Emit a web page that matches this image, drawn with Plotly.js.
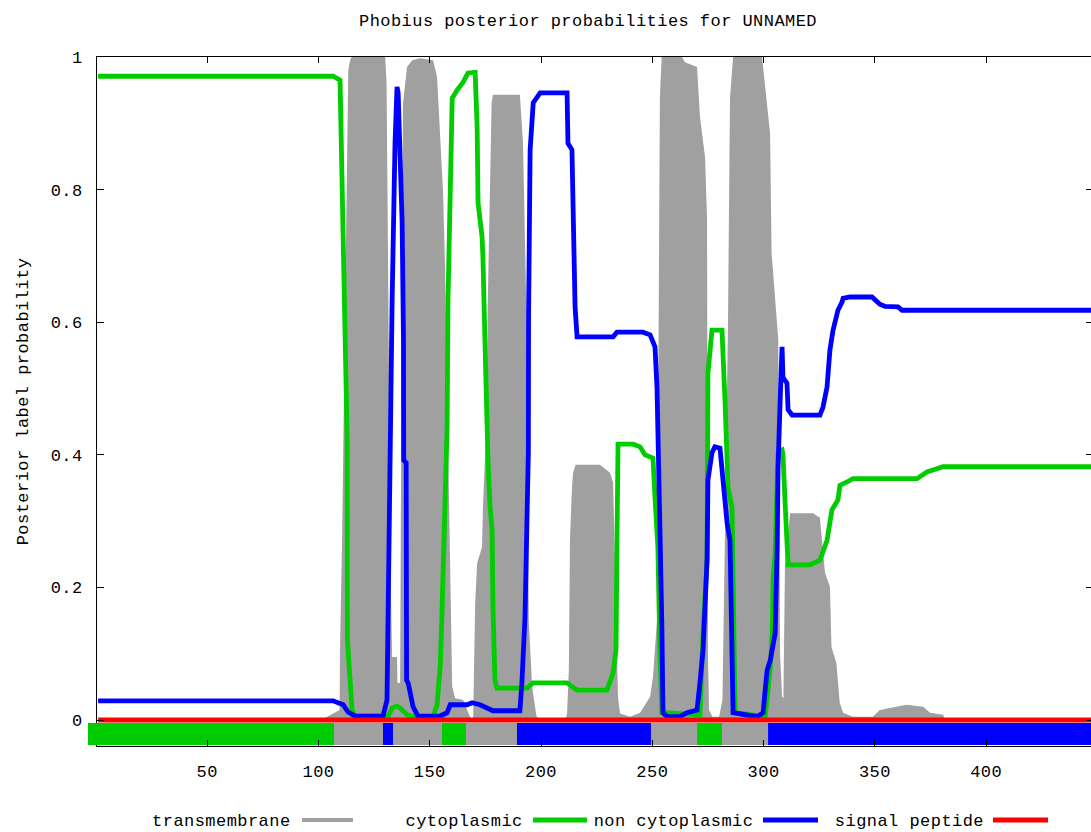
<!DOCTYPE html>
<html>
<head>
<meta charset="utf-8">
<script src="https://cdn.plot.ly/plotly-3.0.1.min.js"></script>
<style>
html,body{margin:0;padding:0;overflow:hidden;background:#fff;width:1091px;height:832px;}
#chart{width:1093px;height:832px;}
.main-svg text{letter-spacing:0.45px;}
</style>
</head>
<body>
<div id="chart"></div>
<script>
// ---------- data ----------
const chartTitle = 'Phobius posterior probabilities for UNNAMED';
const yTitle = 'Posterior label probability';
const seriesNames = ['transmembrane', 'cytoplasmic', 'non cytoplasmic', 'signal peptide'];
const xTicks = [50, 100, 150, 200, 250, 300, 350, 400];
const yTicks = [0, 0.2, 0.4, 0.6, 0.8, 1];
const yTickText = ['0', '0.2', '0.4', '0.6', '0.8', '1'];

// transmembrane posterior (grey area)
const tmX = [1,100,102.9,106.6,109.5,109.7,110.6,111.5,112.5,112.9,
  113.4,114.2,114.9,130.0,130.6,131.5,132.5,133.1,135.3,135.5,
  136.7,137.0,137.6,138.0,139.8,142.1,145.6,151.5,153.3,154.7,
  156.0,156.9,157.8,159.2,160.1,161.4,165.0,166.8,168.1,169.5,
  170.4,171.3,173.5,173.9,175.5,176.2,177.8,178.4,190.5,191.9,
  193.7,194.5,196.0,198.0,199.6,211.0,211.7,212.5,213.0,213.9,
  214.4,215.5,226.5,231.0,232.4,234.6,235.5,240.0,244.5,249.0,
  250.3,252.1,253.0,253.4,254.2,263.3,264.7,270.1,271.4,273.7,
  274.6,275.0,275.5,277.0,280.0,281.5,282.7,284.0,284.9,286.3,
  299.3,299.9,301.4,302.9,303.6,305.1,306.6,307.4,308.3,308.9,
  309.6,311.9,322.2,325.3,327.6,329.8,330.5,332.7,334.2,335.7,
  340.0,349.1,352.2,359.7,364.2,371.7,374.8,380.7,381.5,448];
const tmY = [0,0,0.003,0.010,0.015,0.110,0.270,0.500,0.800,0.910,
  0.980,0.995,1.0,1.0,0.960,0.600,0.200,0.095,0.095,0.056,
  0.056,0.300,0.700,0.930,0.985,0.995,0.998,0.995,0.970,0.879,
  0.795,0.679,0.500,0.271,0.050,0.033,0.030,0.015,0.005,0,
  0.176,0.237,0.261,0.321,0.450,0.653,0.931,0.943,0.943,0.870,
  0.573,0.150,0.050,0.005,0,0,0.010,0.075,0.271,0.350,
  0.373,0.385,0.385,0.373,0.358,0.033,0.010,0.005,0.011,0.035,
  0.065,0.150,0.600,0.938,1.0,1.0,0.992,0.985,0.910,0.849,
  0.754,0.100,0.015,0.005,0.005,0.030,0.290,0.600,0.938,1.0,
  1.0,0.980,0.925,0.885,0.704,0.633,0.573,0.100,0.035,0.033,
  0.231,0.312,0.312,0.305,0.222,0.201,0.110,0.086,0.026,0.011,
  0.005,0.005,0.015,0.020,0.023,0.020,0.011,0.008,0,0];

// cytoplasmic posterior (green)
const cytoX = [1,106.6,109.7,110.2,111.1,112.0,112.9,113.0,114.2,115.1,
  116.4,131.3,133.1,135.3,136.7,139.8,142.5,151.5,153.3,153.8,
  154.7,155.5,156.0,156.9,157.8,158.2,159.2,160.1,162.3,165.0,
  167.2,170.4,171.3,171.7,173.5,173.9,174.8,174.9,176.2,177.1,
  178.0,178.4,179.3,180.2,193.7,196.4,211.7,216.2,229.6,232.4,
  233.7,234.1,234.6,241.4,244.5,246.7,250.3,251.2,252.5,253.4,
  254.3,271.4,272.8,274.6,275.0,276.8,281.3,282.7,284.0,285.8,
  286.3,287.2,300.7,301.6,303.0,303.9,304.3,305.2,306.1,306.5,
  308.3,308.7,309.6,310.5,311.0,320.8,325.3,328.5,330.7,333.4,
  334.3,337.5,340.1,368.9,373.4,376.1,380.6,448];
const cytoY = [0.971,0.971,0.965,0.885,0.789,0.600,0.422,0.121,0.050,0.015,
  0.006,0.006,0.018,0.021,0.018,0.008,0.005,0.005,0.023,0.050,
  0.080,0.161,0.231,0.287,0.442,0.633,0.825,0.938,0.950,0.962,
  0.976,0.977,0.894,0.780,0.729,0.698,0.573,0.554,0.388,0.321,
  0.287,0.170,0.060,0.048,0.048,0.056,0.056,0.045,0.045,0.071,
  0.106,0.261,0.416,0.416,0.412,0.400,0.395,0.336,0.261,0.110,
  0.011,0.008,0.131,0.241,0.523,0.588,0.588,0.478,0.351,0.321,
  0.181,0.011,0.005,0.035,0.080,0.131,0.215,0.251,0.332,0.403,
  0.407,0.400,0.332,0.241,0.234,0.234,0.241,0.271,0.317,0.332,
  0.354,0.359,0.364,0.364,0.374,0.377,0.382,0.382];

// non cytoplasmic posterior (blue)
const noncytoX = [1,106.6,111.1,113.3,116.4,129.0,130.8,131.3,132.2,133.1,
  134.4,135.3,135.8,136.7,137.6,138.2,138.3,139.4,139.6,140.3,
  142.5,144.7,154.7,157.8,159.2,166.8,169.0,172.6,175.7,178.4,
  190.5,191.4,192.8,193.5,194.3,194.4,195.1,196.5,199.6,211.7,
  211.8,212.1,213.9,214.4,215.3,216.2,232.4,234.1,245.8,249.0,
  251.2,252.1,252.5,253.4,254.3,254.8,256.6,262.4,265.6,270.1,
  271.4,272.8,274.6,275.0,276.8,278.1,280.4,281.8,283.6,284.9,
  285.8,286.3,297.1,299.8,300.7,301.6,303.0,304.3,305.2,306.1,
  306.5,307.4,308.3,308.7,310.5,311.0,312.8,325.3,326.7,328.5,
  329.8,331.2,333.4,335.2,335.7,338.8,348.7,352.2,354.5,360.4,
  362.2,448];
const noncytoY = [0.029,0.029,0.023,0.012,0.006,0.006,0.030,0.166,0.442,0.633,
  0.870,0.955,0.946,0.870,0.750,0.573,0.392,0.388,0.060,0.056,
  0.020,0.006,0.006,0.011,0.023,0.023,0.026,0.023,0.018,0.014,
  0.014,0.056,0.155,0.306,0.403,0.608,0.860,0.931,0.946,0.946,
  0.910,0.870,0.860,0.765,0.623,0.578,0.578,0.585,0.585,0.581,
  0.563,0.502,0.407,0.291,0.140,0.011,0.005,0.005,0.011,0.015,
  0.056,0.106,0.241,0.362,0.403,0.412,0.410,0.351,0.297,0.271,
  0.140,0.011,0.005,0.011,0.045,0.075,0.090,0.110,0.131,0.261,
  0.381,0.478,0.563,0.517,0.508,0.468,0.460,0.460,0.472,0.502,
  0.558,0.588,0.618,0.630,0.636,0.638,0.638,0.627,0.624,0.623,
  0.618,0.618];

// signal peptide posterior (red)
const signalX = [1, 448];
const signalY = [0, 0];

// predicted topology (bar under the axis)
const topoStart = [0.5, 107.0, 129.0, 133.5, 155.5, 166.3, 189.2, 249.4, 270.1, 281.3, 302.0];
const topoEnd   = [107.0, 129.0, 133.5, 155.5, 166.3, 189.2, 249.4, 270.1, 281.3, 302.0, 448];
const topoClass = ['cytoplasmic','transmembrane','non cytoplasmic','transmembrane','cytoplasmic',
  'transmembrane','non cytoplasmic','transmembrane','cytoplasmic','transmembrane','non cytoplasmic'];

// ---------- styling ----------
const colors = {'transmembrane':'#a0a0a0','cytoplasmic':'#00cc00','non cytoplasmic':'#0000ff','signal peptide':'#ff0000'};
const FONT = {family:'"Liberation Mono", "DejaVu Sans Mono", monospace', size:17, color:'#000'};
const PL = 97, PR = 1093, PT = 57, PB = 746, H = 832;
const pw = PR - PL, ph = PB - PT;
const px2x = p => (p - PL) / pw;
const py2y = p => (PB - p) / ph;
const barBase = -0.0377, barTop = -0.0045;

const traces = [];
traces.push({
  type:'bar',
  x: topoStart.map((s,i)=> (s + topoEnd[i]) / 2),
  width: topoStart.map((s,i)=> topoEnd[i] - s),
  y: topoStart.map(()=> barTop - barBase),
  base: barBase,
  marker:{color: topoClass.map(c=>colors[c]), line:{width:0}},
  hoverinfo:'skip', showlegend:false
});
traces.push({type:'scatter', mode:'lines', x:tmX, y:tmY, fill:'tozeroy',
  fillcolor:colors['transmembrane'], line:{width:0, color:colors['transmembrane']},
  name:seriesNames[0], showlegend:false, hoverinfo:'skip'});
traces.push({type:'scatter', mode:'lines', x:cytoX, y:cytoY,
  line:{width:4.8, color:colors['cytoplasmic']}, name:seriesNames[1], showlegend:false});
traces.push({type:'scatter', mode:'lines', x:noncytoX, y:noncytoY,
  line:{width:4.8, color:colors['non cytoplasmic']}, name:seriesNames[2], showlegend:false});
traces.push({type:'scatter', mode:'lines', x:signalX, y:signalY,
  line:{width:5, color:colors['signal peptide']}, name:seriesNames[3], showlegend:false});

// manual legend: text then line sample (gnuplot style)
const legTextRight = [290, 522, 752, 983];
const legLine = [[302,353],[533,587],[763,818],[993,1048]];
const legY = py2y(821);
const annotations = seriesNames.map((n,i)=>({
  text:n, xref:'paper', yref:'paper', x:px2x(legTextRight[i]), y:legY,
  xanchor:'right', yanchor:'middle', showarrow:false, font:FONT
}));
const shapes = seriesNames.map((n,i)=>({
  type:'line', xref:'paper', yref:'paper', x0:px2x(legLine[i][0]), x1:px2x(legLine[i][1]),
  y0:py2y(820), y1:py2y(820), line:{color:colors[n], width: i===0 ? 4 : 5}
}));
// overflow of the first topology segment left of the axis
shapes.push({type:'rect', xref:'paper', yref:'y', x0:px2x(88), x1:px2x(98), y0:barBase, y1:barTop,
  fillcolor:colors[topoClass[0]], line:{width:0}, layer:'above'});

const axisCommon = {
  showline:true, linecolor:'#000', linewidth:1, mirror:'ticks',
  ticks:'inside', tickcolor:'#000', tickwidth:1,
  showgrid:false, zeroline:false, tickfont:FONT, fixedrange:true
};

const layout = {
  width:1093, height:H,
  margin:{l:PL, r:1093-PR, t:PT, b:H-PB, pad:0},
  paper_bgcolor:'#fff', plot_bgcolor:'#fff',
  showlegend:false, barmode:'overlay',
  font:FONT,
  title:{text:chartTitle, font:FONT, xref:'paper', x:px2x(588), xanchor:'center',
    yref:'container', y:1 - 20/H, yanchor:'middle'},
  xaxis:Object.assign({}, axisCommon, {range:[0.5, 448], tickvals:xTicks, ticklen:6, ticklabelstandoff:10}),
  yaxis:Object.assign({}, axisCommon, {range:[-0.0392, 1.0], tickvals:yTicks, ticktext:yTickText,
    ticklen:7, ticklabelstandoff:10,
    title:{text:yTitle, font:FONT, standoff:19}}),
  annotations:annotations,
  shapes:shapes
};

Plotly.newPlot('chart', traces, layout, {staticPlot:true, displayModeBar:false});
</script>
</body>
</html>
